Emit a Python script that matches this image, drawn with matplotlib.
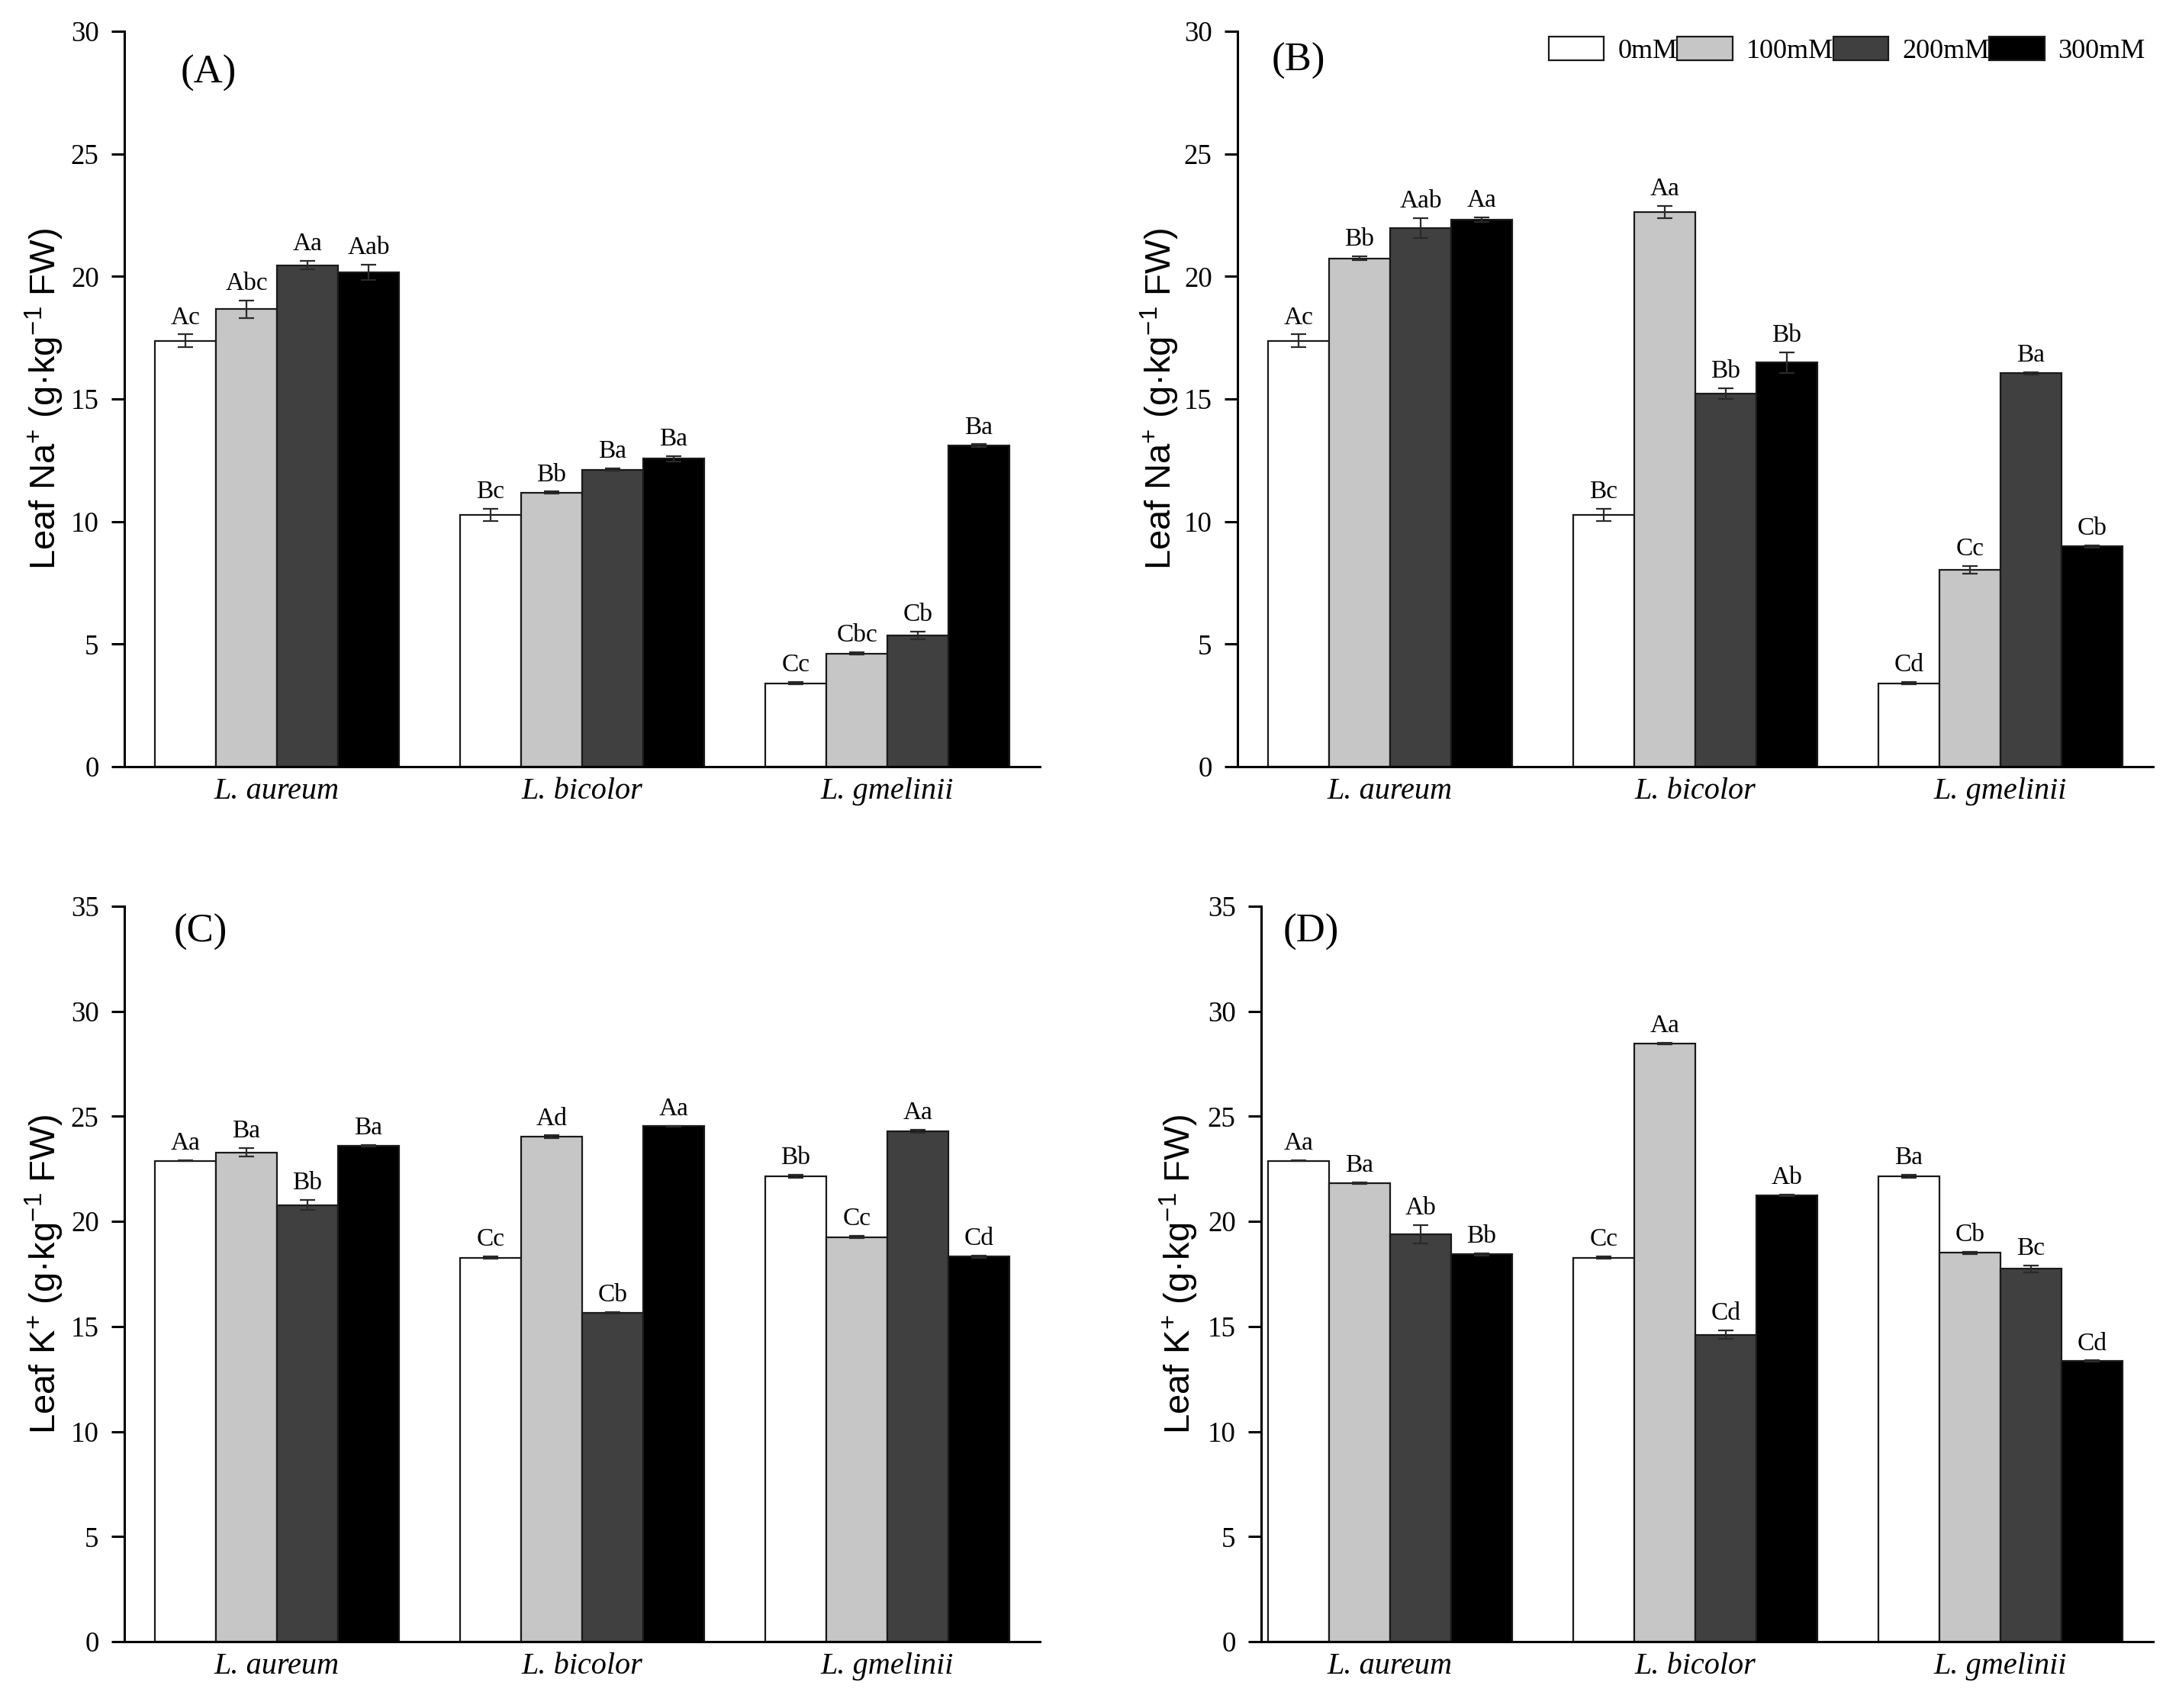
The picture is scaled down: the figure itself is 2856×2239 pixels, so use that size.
import matplotlib.pyplot as plt
import numpy as np

plt.rcParams['font.family'] = ['Liberation Serif', 'DejaVu Serif']
plt.rcParams['mathtext.fontset'] = 'custom'
plt.rcParams['mathtext.rm'] = 'Liberation Sans'

species = ['L. aureum', 'L. bicolor', 'L. gmelinii']
treatments = ['0mM', '100mM', '200mM', '300mM']
colors = ['white', '#c6c6c6', '#404040', 'black']

# each row is one treatment, columns follow species
a_mean = [[17.38, 10.27, 3.40], [18.66, 11.18, 4.62], [20.45, 12.12, 5.36], [20.17, 12.56, 13.10]]
a_err = [[0.25, 0.25, 0.05], [0.36, 0.04, 0.05], [0.17, 0.05, 0.16], [0.30, 0.10, 0.05]]
a_let = [['Ac', 'Bc', 'Cc'], ['Abc', 'Bb', 'Cbc'], ['Aa', 'Ba', 'Cb'], ['Aab', 'Ba', 'Ba']]

b_mean = [[17.38, 10.27, 3.40], [20.73, 22.63, 8.02], [21.98, 15.22, 16.05], [22.32, 16.48, 8.98]]
b_err = [[0.25, 0.25, 0.05], [0.08, 0.24, 0.16], [0.41, 0.22, 0.04], [0.10, 0.42, 0.05]]
b_let = [['Ac', 'Bc', 'Cd'], ['Bb', 'Aa', 'Cc'], ['Aab', 'Bb', 'Ba'], ['Aa', 'Bb', 'Cb']]

c_mean = [[22.89, 18.28, 22.16], [23.29, 24.02, 19.26], [20.78, 15.64, 24.28], [23.60, 24.53, 18.33]]
c_err = [[0.03, 0.05, 0.07], [0.20, 0.07, 0.05], [0.24, 0.03, 0.07], [0.05, 0.03, 0.05]]
c_let = [['Aa', 'Cc', 'Bb'], ['Ba', 'Ad', 'Cc'], ['Bb', 'Cb', 'Aa'], ['Ba', 'Aa', 'Cd']]

d_mean = [[22.89, 18.28, 22.16], [21.83, 28.46, 18.51], [19.39, 14.61, 17.75], [18.43, 21.23, 13.35]]
d_err = [[0.03, 0.05, 0.07], [0.03, 0.03, 0.05], [0.44, 0.19, 0.16], [0.05, 0.03, 0.03]]
d_let = [['Aa', 'Cc', 'Ba'], ['Ba', 'Aa', 'Cb'], ['Ab', 'Cd', 'Bc'], ['Bb', 'Ab', 'Cd']]

na_label = 'Leaf Na$^{+}$ (g·kg$^{-1}$ FW)'
k_label = 'Leaf K$^{+}$ (g·kg$^{-1}$ FW)'

W, H = 2856, 2239
fig = plt.figure(figsize=(W / 200, H / 200), dpi=200)


def px_axes(x0, x1, ytop, ybot):
    return fig.add_axes([x0 / W, 1 - ybot / H, (x1 - x0) / W, (ybot - ytop) / H])


def panel(ax, means, errs, letters, ymax, ylabel, tag, tag_xy, xleft, lab_x):
    x = np.arange(len(species))
    w = 0.2
    bars = []
    for i in range(len(treatments)):
        xs = x + (i - 1.5) * w
        b = ax.bar(xs, means[i], w, color=colors[i], edgecolor='#1a1a1a',
                   linewidth=0.8, label=treatments[i], zorder=2)
        bars.append(b)
        ax.errorbar(xs, means[i], yerr=errs[i], fmt='none', ecolor='#2a2a2a',
                    elinewidth=0.8, capsize=3.5, capthick=0.8, zorder=3)
        for xx, m, e, t in zip(xs, means[i], errs[i], letters[i]):
            ax.annotate(t, (xx, m + e), xytext=(0, 2.5), textcoords='offset points',
                        ha='center', va='bottom', fontsize=12)
    ax.set_xlim(xleft, 2.5)
    ax.set_ylim(0, ymax)
    ax.set_yticks(np.arange(0, ymax + 1, 5))
    ax.set_xticks(x)
    ax.set_xticklabels(species, fontstyle='italic', fontsize=14.5)
    ax.tick_params(axis='x', length=0, pad=5)
    ax.tick_params(axis='y', direction='out', length=6, width=1.1, pad=6, labelsize=13.3)
    for s in ['top', 'right']:
        ax.spines[s].set_visible(False)
    for s in ['left', 'bottom']:
        ax.spines[s].set_linewidth(1.1)
    ax.set_ylabel(ylabel, family='Liberation Sans', fontsize=17, va='center')
    ax.yaxis.set_label_coords(lab_x, 0.5)
    ax.text(tag_xy[0], tag_xy[1], tag, ha='center', va='center', fontsize=19)
    return bars


ax_a = px_axes(163, 1363, 41, 1005)
ax_b = px_axes(1622, 2822, 41, 1005)
ax_c = px_axes(163, 1363, 1188, 2152)
ax_d = px_axes(1653, 2822, 1188, 2152)

panel(ax_a, a_mean, a_err, a_let, 30, na_label, '(A)', (-0.225, 28.3), -0.5, -0.0875)
bars = panel(ax_b, b_mean, b_err, b_let, 30, na_label, '(B)', (-0.30, 28.8), -0.5, -0.085)
panel(ax_c, c_mean, c_err, c_let, 35, k_label, '(C)', (-0.25, 33.75), -0.5, -0.0875)
panel(ax_d, d_mean, d_err, d_let, 35, k_label, '(D)', (-0.26, 33.75), -0.4225, -0.092)

fig.legend(handles=bars, labels=treatments, loc='upper left',
           bbox_to_anchor=(2030 / W, 1 - 48 / H), ncol=4, frameon=False,
           fontsize=13, handlelength=2.0, handleheight=0.95, handletextpad=0.5,
           columnspacing=0.0, borderpad=0, borderaxespad=0)

fig.savefig('out.png', dpi=200)
